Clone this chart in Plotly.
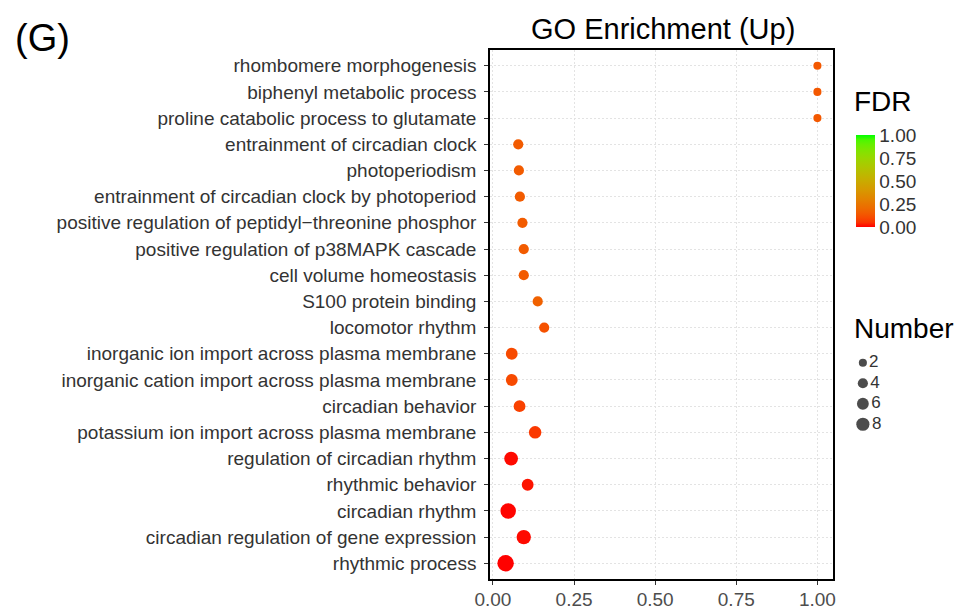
import numpy as np
import plotly.graph_objects as go

# GO terms, listed from the top row of the chart to the bottom row
terms = [
    "rhombomere morphogenesis",
    "biphenyl metabolic process",
    "proline catabolic process to glutamate",
    "entrainment of circadian clock",
    "photoperiodism",
    "entrainment of circadian clock by photoperiod",
    "positive regulation of peptidyl\u2212threonine phosphor",
    "positive regulation of p38MAPK cascade",
    "cell volume homeostasis",
    "S100 protein binding",
    "locomotor rhythm",
    "inorganic ion import across plasma membrane",
    "inorganic cation import across plasma membrane",
    "circadian behavior",
    "potassium ion import across plasma membrane",
    "regulation of circadian rhythm",
    "rhythmic behavior",
    "circadian rhythm",
    "circadian regulation of gene expression",
    "rhythmic process",
]
rich_factor = [1.00, 1.00, 1.00, 0.078, 0.080, 0.083, 0.091, 0.095, 0.095, 0.138,
               0.158, 0.058, 0.058, 0.082, 0.130, 0.056, 0.107, 0.047, 0.095, 0.039]
gene_number = [2, 2, 2, 4, 4, 4, 4, 4, 4, 4,
               4, 6, 6, 6, 7, 9, 6, 12, 10, 14]
fdr = [0.14, 0.14, 0.14, 0.15, 0.15, 0.15, 0.15, 0.15, 0.15, 0.17,
       0.12, 0.10, 0.10, 0.08, 0.06, 0.01, 0.02, 0.004, 0.01, 0.001]

x_ticks = [0.0, 0.25, 0.5, 0.75, 1.0]
fdr_ticks = [0.0, 0.25, 0.5, 0.75, 1.0]
size_breaks = [2, 4, 6, 8]

FONT = "Liberation Sans, Arial, Helvetica, sans-serif"


def dot_diameter(n):
    return 3.0 + 3.6 * np.sqrt(np.asarray(n, dtype=float))


# red -> green gradient interpolated in CIELAB
_M = np.array([[0.4124, 0.3576, 0.1805], [0.2126, 0.7152, 0.0722], [0.0193, 0.1192, 0.9505]])
_WHITE = np.array([0.95047, 1.0, 1.08883])


def _to_lab(rgb):
    c = np.asarray(rgb, float) / 255.0
    lin = np.where(c <= 0.04045, c / 12.92, ((c + 0.055) / 1.055) ** 2.4)
    xyz = _M @ lin / _WHITE
    f = np.where(xyz > 0.008856, np.cbrt(xyz), 7.787 * xyz + 16 / 116)
    return np.array([116 * f[1] - 16, 500 * (f[0] - f[1]), 200 * (f[1] - f[2])])


def _from_lab(lab):
    L, a, b = lab
    fy = (L + 16) / 116
    fx = fy + a / 500
    fz = fy - b / 200
    f = np.array([fx, fy, fz])
    xyz = np.where(f ** 3 > 0.008856, f ** 3, (f - 16 / 116) / 7.787) * _WHITE
    lin = np.linalg.solve(_M, xyz)
    lin = np.clip(lin, 0, 1)
    c = np.where(lin <= 0.0031308, 12.92 * lin, 1.055 * lin ** (1 / 2.4) - 0.055)
    r, g, bb = np.clip(np.round(c * 255), 0, 255).astype(int)
    return f"rgb({r},{g},{bb})"


lab_lo, lab_hi = _to_lab((255, 0, 0)), _to_lab((0, 255, 0))
colorscale = [[t, _from_lab(lab_lo + t * (lab_hi - lab_lo))] for t in np.linspace(0, 1, 21)]

# layout geometry (pixels)
W, H = 973, 613
ML, MR, MT, MB = 490, 0, 50, 34
PLOT_RIGHT = 833
pw, ph = W - ML - MR, H - MT - MB


def px_x(x):
    return (x - ML) / pw


def px_y(y):
    return (H - MB - y) / ph


# x range with 5% expansion of the data range
xmin, xmax = min(rich_factor), max(rich_factor)
pad = 0.05 * (xmax - xmin)
x_range = [xmin - pad, xmax + pad]

fig = go.Figure()

fig.add_trace(go.Scatter(
    x=rich_factor,
    y=terms,
    mode="markers",
    marker=dict(
        size=dot_diameter(gene_number),
        color=fdr,
        colorscale=colorscale,
        cmin=0, cmax=1,
        line=dict(width=0),
        opacity=1,
        showscale=True,
        colorbar=dict(
            x=px_x(856), xanchor="left",
            y=px_y(135), yanchor="top",
            lenmode="pixels", len=92,
            thicknessmode="pixels", thickness=19,
            outlinewidth=0, xpad=0, ypad=0,
            tickvals=fdr_ticks,
            ticktext=[f"{v:.2f}" for v in fdr_ticks],
            ticks="",
            tickfont=dict(family=FONT, size=19, color="#333333"),
        ),
    ),
    hovertemplate="%{y}<br>%{x}<extra></extra>",
    showlegend=False,
))

# size key
fig.add_trace(go.Scatter(
    x=[0] * len(size_breaks),
    y=size_breaks,
    xaxis="x2", yaxis="y2",
    mode="markers+text",
    marker=dict(size=dot_diameter(size_breaks), color="black", line=dict(width=0)),
    text=[str(b) for b in size_breaks],
    textposition="middle right",
    textfont=dict(family=FONT, size=17, color="#333333"),
    hoverinfo="skip",
    showlegend=False,
))

axis_common = dict(
    showline=True, linecolor="black", linewidth=1.5, mirror=True,
    ticks="outside", ticklen=4, tickwidth=1.2, tickcolor="#333333",
    showgrid=True, gridcolor="#e3e3e3", gridwidth=1, griddash="2px,2px",
    zeroline=False,
)

fig.update_layout(
    width=W, height=H,
    margin=dict(l=ML, r=MR, t=MT, b=MB, autoexpand=False),
    paper_bgcolor="white", plot_bgcolor="white",
    font=dict(family=FONT, color="#333333"),
    xaxis=dict(
        domain=[0, (PLOT_RIGHT - ML) / pw],
        range=x_range,
        tickvals=x_ticks,
        ticktext=[f"{v:.2f}" for v in x_ticks],
        tickfont=dict(family=FONT, size=19, color="#4d4d4d"),
        ticklabelstandoff=-2,
        automargin=False,
        **axis_common,
    ),
    yaxis=dict(
        type="category",
        categoryorder="array",
        categoryarray=terms,
        range=[len(terms) - 0.4, -0.6],
        tickfont=dict(family=FONT, size=19, color="#333333"),
        ticklabelstandoff=4,
        automargin=False,
        **axis_common,
    ),
    xaxis2=dict(domain=[px_x(855), 1], range=[-1, 14], visible=False,
                anchor="y2", fixedrange=True),
    yaxis2=dict(domain=[px_y(434.5), px_y(352.5)], range=[9, 1], visible=False,
                anchor="x2", fixedrange=True),
    annotations=[
        dict(text="(G)", x=px_x(13), y=px_y(38), xref="paper", yref="paper",
             xanchor="left", yanchor="middle", showarrow=False,
             font=dict(family=FONT, size=38, color="black")),
        dict(text="GO Enrichment (Up)", x=px_x(663), y=px_y(29), xref="paper", yref="paper",
             xanchor="center", yanchor="middle", showarrow=False,
             font=dict(family=FONT, size=29, color="black")),
        dict(text="FDR", x=px_x(852), y=px_y(101), xref="paper", yref="paper",
             xanchor="left", yanchor="middle", showarrow=False,
             font=dict(family=FONT, size=28, color="black")),
        dict(text="Number", x=px_x(852), y=px_y(329), xref="paper", yref="paper",
             xanchor="left", yanchor="middle", showarrow=False,
             font=dict(family=FONT, size=28, color="black")),
    ],
)

fig.write_html("out.html")
